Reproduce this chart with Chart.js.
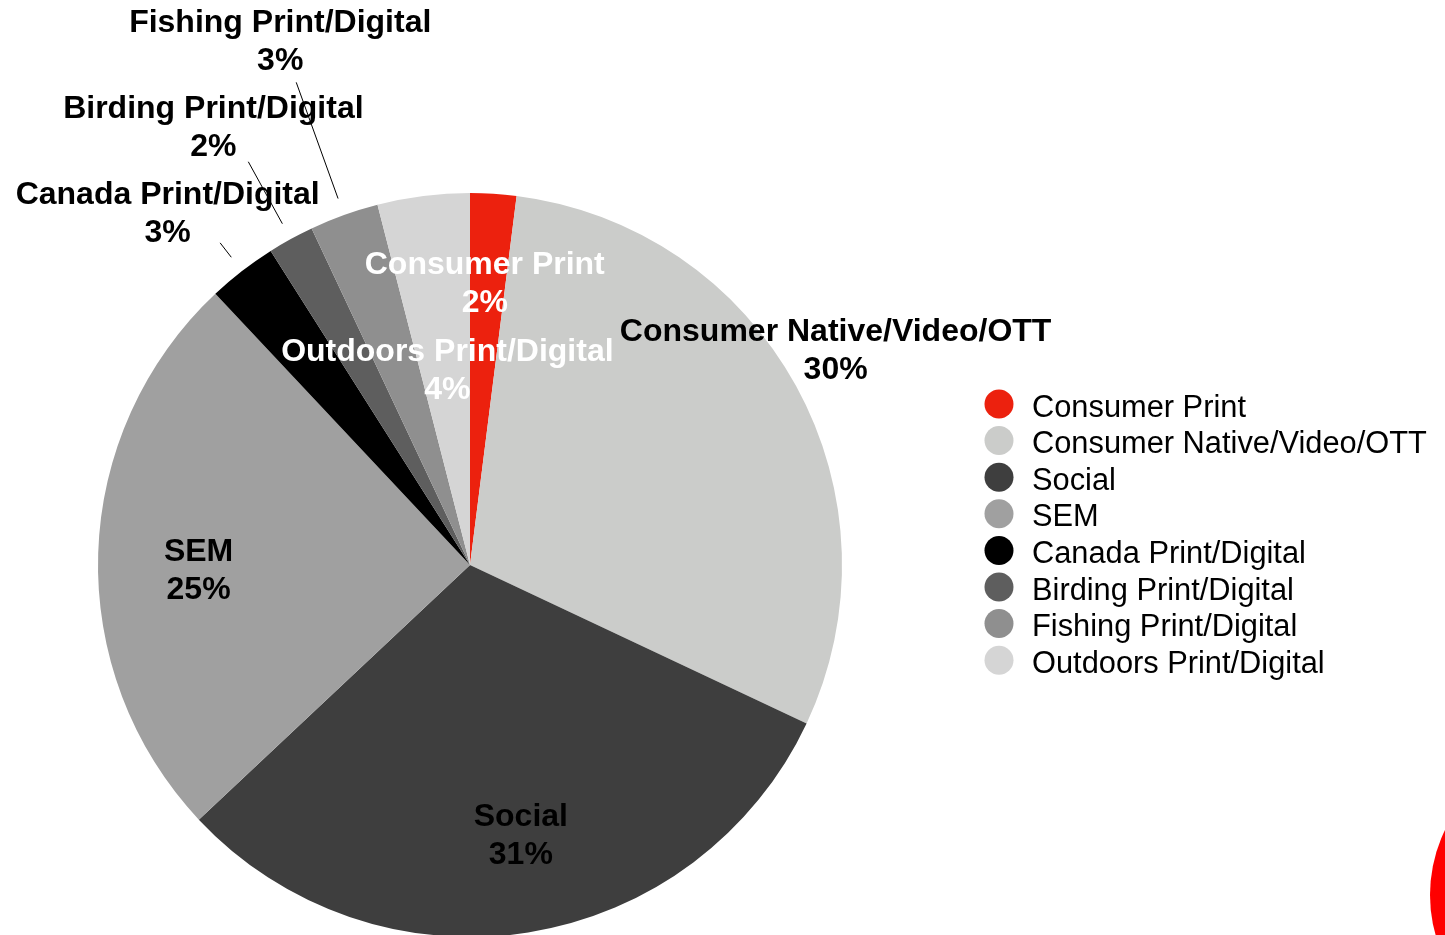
<!DOCTYPE html>
<html>
<head>
<meta charset="utf-8">
<script src="https://cdn.jsdelivr.net/npm/chart.js@4.4.1/dist/chart.umd.min.js"></script>
<style>
  html, body {
    margin: 0;
    padding: 0;
    background: #fff;
    overflow: hidden;
  }
  #wrap {
    width: 1445px;
    height: 935px;
    overflow: hidden;
  }
</style>
</head>
<body>
<div id="wrap">
  <canvas id="mediaMix" width="1445" height="960" aria-label="Media spend split by channel"></canvas>
</div>
<script>
const categories = [
  'Consumer Print',
  'Consumer Native/Video/OTT',
  'Social',
  'SEM',
  'Canada Print/Digital',
  'Birding Print/Digital',
  'Fishing Print/Digital',
  'Outdoors Print/Digital',
];
const shares = [2, 30, 31, 25, 3, 2, 3, 4];
const sliceColors = [
  '#ec210e',
  '#cbccca',
  '#3e3e3e',
  '#a0a0a0',
  '#000000',
  '#5e5e5e',
  '#8f8f8f',
  '#d5d5d5',
];

const FONT = '"Liberation Sans", Arial, sans-serif';

// label text drawn on / around each slice, two lines: name and percent
const sliceLabels = {
  id: 'sliceLabels',
  afterDatasetsDraw(chart, args, options) {
    const { ctx } = chart;
    const meta = chart.getDatasetMeta(0);
    const values = chart.data.datasets[0].data;
    ctx.save();
    ctx.font = `bold ${options.fontSize}px ${FONT}`;
    ctx.textAlign = 'center';
    ctx.textBaseline = 'middle';
    meta.data.forEach((arc, i) => {
      const { x, y, startAngle, endAngle, outerRadius } = arc.getProps(
        ['x', 'y', 'startAngle', 'endAngle', 'outerRadius'],
        true
      );
      const mid = (startAngle + endAngle) / 2;
      const place = options.placement[i];
      const cos = Math.cos(mid);
      const sin = Math.sin(mid);
      const cx = x + cos * outerRadius * place.r + (place.dx || 0);
      const cy = y + sin * outerRadius * place.r + (place.dy || 0) + 1.5;

      ctx.fillStyle = place.color;
      ctx.fillText(chart.data.labels[i], cx, cy - options.lineGap / 2);
      ctx.fillText(values[i] + '%', cx, cy + options.lineGap / 2);

      if (place.leader) {
        const r0 = outerRadius * 1.047;
        const r1 = outerRadius * place.leader;
        ctx.strokeStyle = '#000';
        ctx.lineWidth = 1;
        ctx.beginPath();
        ctx.moveTo(x + cos * r0, y + sin * r0);
        ctx.lineTo(x + cos * r1, y + sin * r1);
        ctx.stroke();
      }
    });
    ctx.restore();
  },
};

// legend column on the right
const sideLegend = {
  id: 'sideLegend',
  afterDraw(chart, args, options) {
    const { ctx } = chart;
    const colors = chart.data.datasets[0].backgroundColor;
    ctx.save();
    ctx.font = `${options.fontSize}px ${FONT}`;
    ctx.textAlign = 'left';
    ctx.textBaseline = 'alphabetic';
    chart.data.labels.forEach((label, i) => {
      const y = options.top + i * options.rowHeight;
      ctx.fillStyle = colors[i];
      ctx.beginPath();
      ctx.arc(options.left, y, options.dotRadius, 0, Math.PI * 2);
      ctx.fill();
      ctx.fillStyle = '#000';
      ctx.fillText(label, options.left + options.textGap, y + 12.5);
    });
    ctx.restore();
  },
};

// red disc peeking in at the lower right corner
const cornerMark = {
  id: 'cornerMark',
  afterDraw(chart) {
    const { ctx } = chart;
    ctx.save();
    ctx.fillStyle = '#ff0000';
    ctx.beginPath();
    ctx.arc(1578, 895, 148, 0, Math.PI * 2);
    ctx.fill();
    ctx.restore();
  },
};

new Chart(document.getElementById('mediaMix'), {
  type: 'pie',
  data: {
    labels: categories,
    datasets: [
      {
        data: shares,
        backgroundColor: sliceColors,
        borderWidth: 0,
        hoverOffset: 0,
        offset: 0,
      },
    ],
  },
  options: {
    responsive: false,
    animation: false,
    events: [],
    layout: {
      padding: { left: 98, top: 193, right: 603, bottom: 23 },
    },
    plugins: {
      legend: { display: false },
      tooltip: { enabled: false },
      sliceLabels: {
        fontSize: 32,
        lineGap: 38,
        placement: [
          { r: 0.76, color: '#fff', dx: -3, dy: 0 },
          { r: 1.14, color: '#000', dx: -6, dy: -11 },
          { r: 0.736, color: '#000', dx: 8, dy: -1 },
          { r: 0.73, color: '#000', dx: 0, dy: 13 },
          { r: 1.247, color: '#000', dx: -18, dy: 14, leader: 1.096 },
          { r: 1.365, color: '#000', dx: -12, dy: 7, leader: 1.237 },
          { r: 1.498, color: '#000', dx: -1, dy: 0, leader: 1.379 },
          { r: 0.528, color: '#fff', dx: 2, dy: 0 },
        ],
      },
      sideLegend: {
        left: 999,
        top: 404,
        rowHeight: 36.6,
        dotRadius: 14.5,
        textGap: 33,
        fontSize: 30.8,
      },
    },
  },
  plugins: [sliceLabels, sideLegend, cornerMark],
});
</script>
</body>
</html>
